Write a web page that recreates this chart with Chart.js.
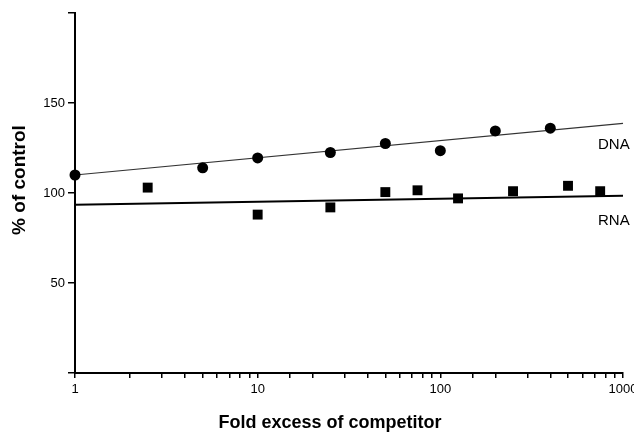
<!DOCTYPE html>
<html>
<head>
<meta charset="utf-8">
<script src="https://cdn.jsdelivr.net/npm/chart.js@4.4.0/dist/chart.umd.min.js"></script>
<style>
  html, body { margin: 0; padding: 0; background: #fff; }
  canvas { display: block; }
</style>
</head>
<body>
<canvas id="myChart" width="634" height="432"></canvas>
<script>
// fold excess of competitor (x) vs % of control (y)
const dnaX = [1, 5, 10, 25, 50, 100, 200, 400];
const dnaY = [110, 114, 119.5, 122.5, 127.5, 123.5, 134.5, 136];
const rnaX = [2.5, 10, 25, 50, 75, 125, 250, 500, 750];
const rnaY = [103, 88, 92, 100.5, 101.5, 97, 101, 104, 101];
// fitted lines, ends at x = 1 and x = 1000
const fitX = [1, 1000];
const dnaFitY = [110, 138.7];
const rnaFitY = [93.5, 98.5];
const xTickLabels = [1, 10, 100, 1000];
const yTickLabels = [50, 100, 150];

const FONT = '"Liberation Sans", Arial, Helvetica, sans-serif';

function pts(xs, ys){
    return xs.map((x, i) => ({x: x, y: ys[i]}));
}

// series names at the line ends + axis titles
const textPlugin = {
    id: 'textPlugin',
    afterDraw(chart){
        const ctx = chart.ctx;
        const a = chart.chartArea;
        const xs = chart.scales.x;
        const ys = chart.scales.y;
        ctx.save();
        ctx.fillStyle = '#000';
        ctx.textBaseline = 'middle';
        ctx.textAlign = 'left';
        ctx.font = '15px ' + FONT;
        const xEnd = xs.getPixelForValue(fitX[1]);
        ctx.fillText('DNA', xEnd - 25, ys.getPixelForValue(dnaFitY[1]) + 22);
        ctx.fillText('RNA', xEnd - 25, ys.getPixelForValue(rnaFitY[1]) + 25);

        ctx.textAlign = 'center';
        ctx.font = 'bold 18px ' + FONT;
        ctx.fillText('Fold excess of competitor', (a.left + a.right) / 2 - 19, a.bottom + 50);

        ctx.translate(a.left - 55, (a.top + a.bottom) / 2 - 13);
        ctx.rotate(-Math.PI / 2);
        ctx.font = 'bold 19px ' + FONT;
        ctx.fillText('% of control', 0, 0);
        ctx.restore();
    }
};

const ctx = document.getElementById('myChart');
new Chart(ctx, {
    type: 'scatter',
    data: {
        datasets: [
            {
                label: 'DNA',
                data: pts(dnaX, dnaY),
                pointStyle: 'circle',
                pointRadius: 5.5,
                backgroundColor: '#000',
                borderColor: '#000',
                borderWidth: 0,
                clip: false
            },
            {
                label: 'RNA',
                data: pts(rnaX, rnaY),
                pointStyle: 'rect',
                pointRadius: 7,
                backgroundColor: '#000',
                borderColor: '#000',
                borderWidth: 0,
                clip: false
            },
            {
                label: 'DNA fit',
                data: pts(fitX, dnaFitY),
                showLine: true,
                pointRadius: 0,
                borderColor: '#333',
                borderWidth: 1.2,
                clip: false
            },
            {
                label: 'RNA fit',
                data: pts(fitX, rnaFitY),
                showLine: true,
                pointRadius: 0,
                borderColor: '#000',
                borderWidth: 2,
                clip: false
            }
        ]
    },
    options: {
        responsive: false,
        animation: false,
        layout: {
            padding: {left: 0, top: 13, right: 11, bottom: 0}
        },
        plugins: {
            legend: {display: false},
            tooltip: {enabled: false}
        },
        scales: {
            x: {
                type: 'logarithmic',
                position: 'bottom',
                min: 1,
                max: 1000,
                border: {color: '#000', width: 2},
                grid: {drawOnChartArea: false, tickLength: 5, color: '#000', lineWidth: 1.5},
                ticks: {
                    autoSkip: false,
                    maxRotation: 0,
                    padding: 4,
                    color: '#000',
                    font: {family: FONT, size: 13},
                    callback: (v) => xTickLabels.includes(v) ? String(v) : ''
                },
                afterFit(s){
                    s.height = 59;
                    s.paddingLeft = 0;
                    s.paddingRight = 0;
                }
            },
            y: {
                min: 0,
                max: 200,
                border: {color: '#000', width: 2},
                grid: {drawOnChartArea: false, tickLength: 7, color: '#000', lineWidth: 1.5},
                ticks: {
                    stepSize: 50,
                    padding: 3,
                    color: '#000',
                    font: {family: FONT, size: 13},
                    callback: (v) => yTickLabels.includes(v) ? String(v) : ''
                },
                afterFit(s){
                    s.width = 75;
                    s.paddingTop = 0;
                    s.paddingBottom = 0;
                }
            }
        }
    },
    plugins: [textPlugin]
});
</script>
</body>
</html>
